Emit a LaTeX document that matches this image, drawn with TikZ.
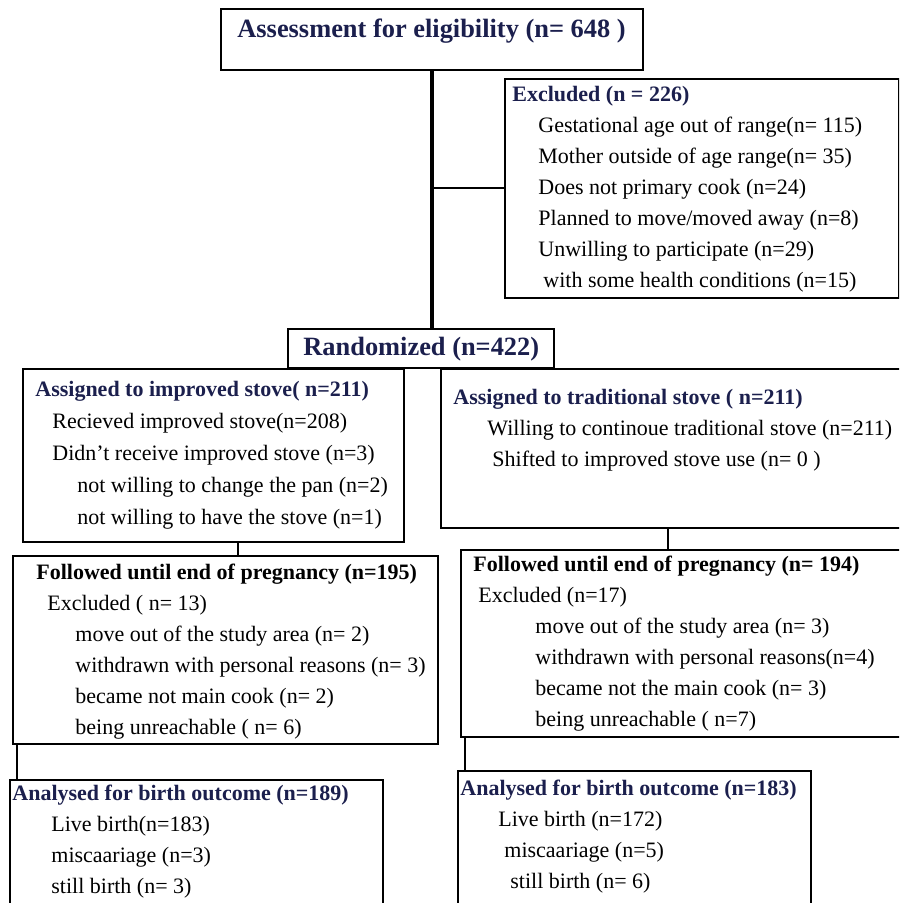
\documentclass[tikz,border=0pt]{standalone}
\usepackage{fontspec}
\setmainfont{Liberation Serif}
\usepackage{xcolor}
\usetikzlibrary{positioning, calc}
\definecolor{cN}{RGB}{27,31,77}

\tikzset{
  box/.style={draw, line width=1pt, rectangle, anchor=north west, inner sep=0pt},
  txt/.style={anchor=north west, inner sep=0pt, align=left, font=\fontsize{11}{15.5}\selectfont},
  head/.style={anchor=base west, inner sep=0pt, font=\fontsize{13.2}{16}\selectfont\bfseries, text=cN},
  link/.style={line width=1pt},
}
\newcommand{\hd}[1]{\textbf{\color{cN}#1}}
\newcommand{\hk}[1]{\textbf{#1}}

\begin{document}
\begin{tikzpicture}[x=0.5pt, y=-0.5pt]
\useasboundingbox (0,0) rectangle (899,903);
\clip (0,0) rectangle (899,903);

% boxes: name / left / top (pixels) / width / height (pt)
\foreach \nm/\x/\y/\w/\h in {
    assess/220/8/211/30.5,
    excl/504/78/197/109.5,
    rand/287/328/133/19.5,
    impr/22/368/190.5/86.5,
    trad/440/368/232.5/79.5,
    folL/12/555/212.5/94,
    folR/460/549/222.5/93.5,
    anaL/9/779/186.5/75,
    anaR/457/770/176.5/80%
} {
    \node[box, minimum width=\w pt, minimum height=\h pt] (\nm) at (\x,\y) {};
}

% headings of the two single-line boxes
\node[head] (assessT) at (237,38) {Assessment for eligibility (n= 648 )};
\node[head] (randT) at (303,355) {Randomized (n=422)};

% texts of the other boxes
\node[txt] (exclT) at (512,86) {\hd{Excluded (n = 226)}\\
    \hspace*{13pt}Gestational age out of range(n= 115)\\
    \hspace*{13pt}Mother outside of age range(n= 35)\\
    \hspace*{13pt}Does not primary cook (n=24)\\
    \hspace*{13pt}Planned to move/moved away (n=8)\\
    \hspace*{13pt}Unwilling to participate (n=29)\\
    \hspace*{15.5pt}with some health conditions (n=15)};

\node[txt, font=\fontsize{11}{16}\selectfont] (imprT) at (35,381) {\hd{Assigned to improved stove( n=211)}\\
    \hspace*{8.5pt}Recieved improved stove(n=208)\\
    \hspace*{8.5pt}Didn't receive improved stove (n=3)\\
    \hspace*{21pt}not willing to change the pan (n=2)\\
    \hspace*{21pt}not willing to have the stove (n=1)};

\node[txt] (tradT) at (453,389) {\hd{Assigned to traditional stove ( n=211)}\\
    \hspace*{17pt}Willing to continoue traditional stove (n=211)\\
    \hspace*{19.5pt}Shifted to improved stove use (n= 0 )};

\node[txt] (folLT) at (36,564) {\hk{Followed until end of pregnancy (n=195)}\\
    \hspace*{5.5pt}Excluded ( n= 13)\\
    \hspace*{19.5pt}move out of the study area (n= 2)\\
    \hspace*{19.5pt}withdrawn with personal reasons (n= 3)\\
    \hspace*{19.5pt}became not main cook (n= 2)\\
    \hspace*{19.5pt}being unreachable ( n= 6)};

\node[txt] (folRT) at (473,556) {\hk{Followed until end of pregnancy (n= 194)}\\
    \hspace*{2.5pt}Excluded (n=17)\\
    \hspace*{31pt}move out of the study area (n= 3)\\
    \hspace*{31pt}withdrawn with personal reasons(n=4)\\
    \hspace*{31pt}became not the main cook (n= 3)\\
    \hspace*{31pt}being unreachable ( n=7)};

\node[txt] (anaLT) at (12,785) {\hd{Analysed for birth outcome (n=189)}\\
    \hspace*{19.5pt}Live birth(n=183)\\
    \hspace*{19.5pt}miscaariage (n=3)\\
    \hspace*{19.5pt}still birth (n= 3)};

\node[txt] (anaRT) at (460,780) {\hd{Analysed for birth outcome (n=183)}\\
    \hspace*{19pt}Live birth (n=172)\\
    \hspace*{22pt}miscaariage (n=5)\\
    \hspace*{25pt}still birth (n= 6)};

% connectors
\coordinate (imprOut) at ([xshift=12.25pt]impr.south);
\coordinate (tradOut) at ([xshift=-2.75pt]trad.south);
\coordinate (folLOut) at ([xshift=2.5pt]folL.south west);
\coordinate (folROut) at ([xshift=2.5pt]folR.south west);

\draw[link, line width=2pt] (assess.south) -- (assess.south |- rand.north);
\draw[link] (assess.south |- excl.west) -- (excl.west);
\draw[link] (imprOut) -- (imprOut |- folL.north);
\draw[link] (tradOut) -- (tradOut |- folR.north);
\draw[link] (folLOut) -- (folLOut |- anaL.north);
\draw[link] (folROut) -- (folROut |- anaR.north);
\end{tikzpicture}
\end{document}
